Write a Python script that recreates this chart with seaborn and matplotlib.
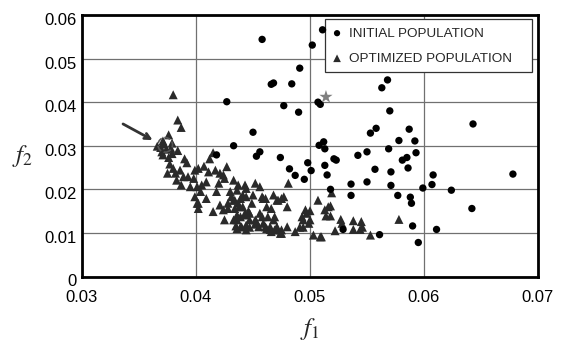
import matplotlib
matplotlib.use("Agg")
import matplotlib.pyplot as plt
from matplotlib.patches import Rectangle
from matplotlib.transforms import ScaledTranslation
import seaborn as sns
import pandas as pd

# ---- data ----
init_x = [0.0458, 0.0427, 0.0466, 0.0468, 0.0484, 0.0491, 0.0477, 0.0490, 0.0450, 0.0433,
          0.0511, 0.0502, 0.0568, 0.0563, 0.0507, 0.0509, 0.0570, 0.0553, 0.0558, 0.0587,
          0.0578, 0.0592, 0.0512, 0.0508, 0.0513, 0.0569, 0.0550, 0.0542, 0.0593, 0.0581,
          0.0585, 0.0586, 0.0521, 0.0523, 0.0498, 0.0513, 0.0501, 0.0515, 0.0557, 0.0571,
          0.0495, 0.0536, 0.0550, 0.0571, 0.0608, 0.0607, 0.0599, 0.0624, 0.0518, 0.0536,
          0.0577, 0.0588, 0.0589, 0.0590, 0.0611, 0.0595, 0.0529, 0.0561, 0.0418, 0.0453,
          0.0456, 0.0474, 0.0482, 0.0487, 0.0643, 0.0678, 0.0642]
init_y = [0.0544, 0.0401, 0.0441, 0.0444, 0.0442, 0.0478, 0.0392, 0.0377, 0.0331, 0.0300,
          0.0566, 0.0531, 0.0451, 0.0433, 0.0400, 0.0395, 0.0380, 0.0329, 0.0340, 0.0338,
          0.0312, 0.0311, 0.0309, 0.0301, 0.0293, 0.0293, 0.0286, 0.0278, 0.0284, 0.0267,
          0.0273, 0.0249, 0.0270, 0.0267, 0.0261, 0.0255, 0.0243, 0.0233, 0.0246, 0.0240,
          0.0223, 0.0212, 0.0217, 0.0209, 0.0233, 0.0211, 0.0203, 0.0198, 0.0200, 0.0186,
          0.0186, 0.0182, 0.0168, 0.0116, 0.0108, 0.0078, 0.0108, 0.0096, 0.0279, 0.0276,
          0.0286, 0.0273, 0.0247, 0.0232, 0.0350, 0.0235, 0.0156]

opt_x = [0.0380, 0.0384, 0.0387, 0.0366, 0.0371, 0.0376, 0.0374, 0.0378, 0.0384, 0.0376,
         0.0377, 0.0375, 0.0382, 0.0383, 0.0387, 0.0392, 0.0393, 0.0398, 0.0395, 0.0399,
         0.0402, 0.0407, 0.0401, 0.0405, 0.0404, 0.0401, 0.0402, 0.0415, 0.0417, 0.0421,
         0.0424, 0.0427, 0.0425, 0.0433, 0.0437, 0.0436, 0.0443, 0.0444, 0.0441, 0.0433,
         0.0428, 0.0425, 0.0415, 0.0421, 0.0424, 0.0434, 0.0439, 0.0444, 0.0450, 0.0449,
         0.0447, 0.0436, 0.0439, 0.0444, 0.0452, 0.0456, 0.0458, 0.0461, 0.0462, 0.0466,
         0.0468, 0.0471, 0.0475, 0.0477, 0.0480, 0.0459, 0.0465, 0.0471, 0.0474, 0.0480,
         0.0487, 0.0493, 0.0497, 0.0500, 0.0503, 0.0507, 0.0510, 0.0513, 0.0516, 0.0481,
         0.0458, 0.0469, 0.0447, 0.0434, 0.0438, 0.0436, 0.0443, 0.0435, 0.0440, 0.0447,
         0.0453, 0.0456, 0.0459, 0.0472, 0.0463, 0.0468, 0.0461, 0.0465, 0.0469, 0.0475,
         0.0491, 0.0519, 0.0518, 0.0514, 0.0518, 0.0496, 0.0500, 0.0494, 0.0499, 0.0494,
         0.0509, 0.0522, 0.0527, 0.0528, 0.0538, 0.0545, 0.0546, 0.0538, 0.0544, 0.0553,
         0.0578, 0.0379, 0.0372, 0.0369, 0.0379, 0.0390, 0.0412, 0.0430, 0.0446, 0.0452,
         0.0431, 0.0428, 0.0437, 0.0441, 0.0443, 0.0439, 0.0433, 0.0444, 0.0436, 0.0452,
         0.0455, 0.0462, 0.0466, 0.0471, 0.0475, 0.0409, 0.0399, 0.0402, 0.0389, 0.0386,
         0.0380, 0.0371, 0.0370, 0.0411, 0.0420, 0.0418, 0.0409]
opt_y = [0.0417, 0.0359, 0.0342, 0.0299, 0.0311, 0.0325, 0.0292, 0.0294, 0.0289, 0.0273,
         0.0258, 0.0237, 0.0237, 0.0221, 0.0210, 0.0261, 0.0229, 0.0225, 0.0206, 0.0244,
         0.0248, 0.0253, 0.0206, 0.0210, 0.0195, 0.0168, 0.0156, 0.0284, 0.0244, 0.0237,
         0.0233, 0.0252, 0.0225, 0.0221, 0.0210, 0.0198, 0.0210, 0.0202, 0.0187, 0.0175,
         0.0168, 0.0130, 0.0149, 0.0164, 0.0153, 0.0156, 0.0179, 0.0183, 0.0187, 0.0168,
         0.0145, 0.0130, 0.0114, 0.0118, 0.0214, 0.0206, 0.0183, 0.0179, 0.0160, 0.0156,
         0.0187, 0.0175, 0.0179, 0.0183, 0.0160, 0.0122, 0.0114, 0.0107, 0.0099, 0.0114,
         0.0103, 0.0137, 0.0145, 0.0130, 0.0095, 0.0175, 0.0091, 0.0153, 0.0160, 0.0214,
         0.0137, 0.0137, 0.0130, 0.0175, 0.0160, 0.0141, 0.0141, 0.0116, 0.0114, 0.0113,
         0.0126, 0.0145, 0.0179, 0.0175, 0.0137, 0.0130, 0.0114, 0.0108, 0.0107, 0.0099,
         0.0113, 0.0192, 0.0162, 0.0139, 0.0139, 0.0153, 0.0151, 0.0130, 0.0122, 0.0113,
         0.0091, 0.0105, 0.0131, 0.0122, 0.0128, 0.0126, 0.0113, 0.0108, 0.0108, 0.0095,
         0.0131, 0.0306, 0.0304, 0.0296, 0.0282, 0.0270, 0.0270, 0.0195, 0.0150, 0.0120,
         0.0183, 0.0156, 0.0168, 0.0160, 0.0145, 0.0137, 0.0130, 0.0107, 0.0110, 0.0130,
         0.0114, 0.0110, 0.0103, 0.0114, 0.0107, 0.0179, 0.0183, 0.0168, 0.0229, 0.0244,
         0.0248, 0.0279, 0.0286, 0.0240, 0.0214, 0.0195, 0.0217]

star_x = [0.0514]
star_y = [0.0412]

highlight_x = [0.0373]
highlight_y = [0.0302]

arrow_tail = (0.0336, 0.0350)
arrow_head = (0.0362, 0.0313)

x_ticks = [0.03, 0.04, 0.05, 0.06, 0.07]
x_ticklabels = ["0.03", "0.04", "0.05", "0.06", "0.07"]
y_ticks = [0, 0.01, 0.02, 0.03, 0.04, 0.05, 0.06]
y_ticklabels = ["0", "0.01", "0.02", "0.03", "0.04", "0.05", "0.06"]

labels = ["INITIAL POPULATION", "OPTIMIZED POPULATION"]

# ---- plot ----
sns.set_style("white")
plt.rcParams["font.family"] = ["Liberation Sans", "DejaVu Sans"]
plt.rcParams["mathtext.fontset"] = "stix"

fig = plt.figure(figsize=(5.64, 3.42), dpi=100)
ax = fig.add_axes([82 / 564, 1 - 276.5 / 342, (538 - 82) / 564, (276.5 - 15) / 342])

df_init = pd.DataFrame({"f1": init_x, "f2": init_y})
df_opt = pd.DataFrame({"f1": opt_x, "f2": opt_y})

sns.scatterplot(data=df_opt, x="f1", y="f2", ax=ax, marker="^", s=42,
                color="#2a2a2a", edgecolor="none", label=labels[1], zorder=3)
sns.scatterplot(data=df_init, x="f1", y="f2", ax=ax, marker="o", s=28,
                color="black", edgecolor="none", label=labels[0], zorder=4)
ax.scatter(star_x, star_y, marker="*", s=100, color="#808080", edgecolor="none", zorder=5)
ax.scatter(highlight_x, highlight_y, marker="o", s=110, facecolor="none",
           edgecolor="#555555", linewidth=1.2, linestyle="--", zorder=6)
ax.annotate("", xy=arrow_head, xytext=arrow_tail,
            arrowprops=dict(arrowstyle="->", lw=2.0, color="#333333",
                            shrinkA=0, shrinkB=0), zorder=7)

ax.set_xlim(0.03, 0.07)
ax.set_ylim(0, 0.06)
ax.set_xticks(x_ticks)
ax.set_xticklabels(x_ticklabels)
ax.set_yticks(y_ticks)
ax.set_yticklabels(y_ticklabels)
ax.tick_params(axis="both", labelsize=12, length=0, colors="black")
ax.tick_params(axis="x", pad=10)
ax.tick_params(axis="y", pad=4)
for lab in ax.get_yticklabels():
    lab.set_transform(lab.get_transform() + ScaledTranslation(0, -4 / 100, fig.dpi_scale_trans))
ax.grid(True, color="#707070", linewidth=0.9)
ax.set_axisbelow(True)
for sp in ax.spines.values():
    sp.set_visible(True)
    sp.set_color("black")
    sp.set_linewidth(2.0)

ax.set_xlabel(r"$f_1$", fontsize=18, labelpad=8)
ax.set_ylabel(r"$f_2$", fontsize=18, rotation=0, labelpad=14, va="center")
ax.yaxis.set_label_coords(-0.13, 0.46)

# legend frame (white box covering grid)
ax.add_patch(Rectangle((0.533, 0.782), 0.454, 0.203, transform=ax.transAxes,
                       facecolor="white", edgecolor="#333333", linewidth=0.9, zorder=2.5))

handles, labs = ax.get_legend_handles_labels()
order = [labs.index(labels[0]), labs.index(labels[1])]
leg = ax.legend([handles[i] for i in order], [labs[i] for i in order],
                loc="upper left", bbox_to_anchor=(0.546, 0.953), borderaxespad=0,
                fontsize=9.7, frameon=False, handlelength=0.9, handletextpad=0.45,
                labelspacing=0.94, borderpad=0, markerscale=0.85)
leg.set_zorder(8)

fig.savefig("out.png", dpi=100)
